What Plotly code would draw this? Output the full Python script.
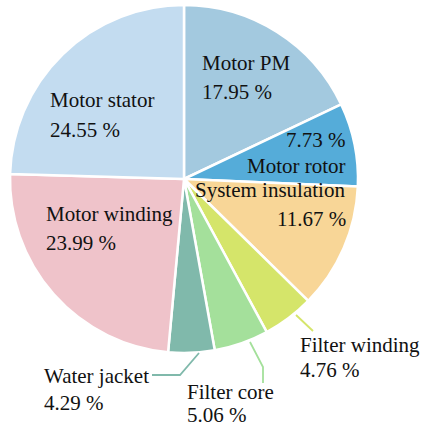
import plotly.graph_objects as go

labels = ["Motor PM", "Motor rotor", "System insulation", "Filter winding",
          "Filter core", "Water jacket", "Motor winding", "Motor stator"]
values = [17.95, 7.73, 11.67, 4.76, 5.06, 4.29, 23.99, 24.55]
colors = ["#a3c9df", "#55acd9", "#f8d697", "#d5e56a",
          "#a4e09b", "#80b9ab", "#efc3ca", "#c3dcf0"]

W, H = 422, 427
ML, MR, MT, MB = 10, 64, 5, 74
PW = W - ML - MR
PH = H - MT - MB

def px(x):
    return (x - ML) / PW

def py(y):
    return (H - MB - y) / PH

fig = go.Figure(go.Pie(
    labels=labels, values=values, sort=False, direction="clockwise",
    rotation=0, textinfo="none", hoverinfo="label+percent",
    marker=dict(colors=colors, line=dict(color="white", width=2.5)),
))

FONT = dict(family="Liberation Serif", size=21, color="#111")

label_pos = {
    "Motor stator": (48, 100, "left", 30),
    "Motor PM": (200, 63, "left", 29),
    "Motor rotor": (348, 166, "right", -26),
    "System insulation": (193, 190, "left", 0),
    "Motor winding": (44, 214, "left", 29),
    "Water jacket": (42, 376, "left", 27),
    "Filter core": (185, 392, "left", 23),
    "Filter winding": (298, 345, "left", 25),
}
pct = {l: f"{v:.2f} %" for l, v in zip(labels, values)}

ann = []
for lab, (x, y, anchor, dy) in label_pos.items():
    ann.append(dict(x=px(x), y=py(y), xref="paper", yref="paper", text=lab,
                    showarrow=False, xanchor=anchor, yanchor="middle", font=FONT))
    if lab == "System insulation":
        ann.append(dict(x=px(348), y=py(219), xref="paper", yref="paper", text=pct[lab],
                        showarrow=False, xanchor="right", yanchor="middle", font=FONT))
    else:
        ann.append(dict(x=px(x), y=py(y + dy), xref="paper", yref="paper", text=pct[lab],
                        showarrow=False, xanchor=anchor, yanchor="middle", font=FONT))

leaders = {
    "Water jacket": [(199, 353), (180, 375), (152, 375)],
    "Filter core": [(250, 342), (263, 367), (263, 383)],
    "Filter winding": [(296, 315), (313, 331)],
}
col = dict(zip(labels, colors))
shapes = []
for lab, pts in leaders.items():
    path = "M " + " L ".join(f"{px(a)},{py(b)}" for a, b in pts)
    shapes.append(dict(type="path", path=path, xref="paper", yref="paper",
                       line=dict(color=col[lab], width=1.8)))

fig.update_layout(
    width=W, height=H, showlegend=False,
    margin=dict(l=ML, r=MR, t=MT, b=MB, pad=0),
    paper_bgcolor="white", plot_bgcolor="white",
    font=FONT,
    annotations=ann, shapes=shapes,
)
fig.write_html("out.html", config={"displayModeBar": False},
               post_script="document.body.style.margin='0';document.body.style.overflow='hidden';")
